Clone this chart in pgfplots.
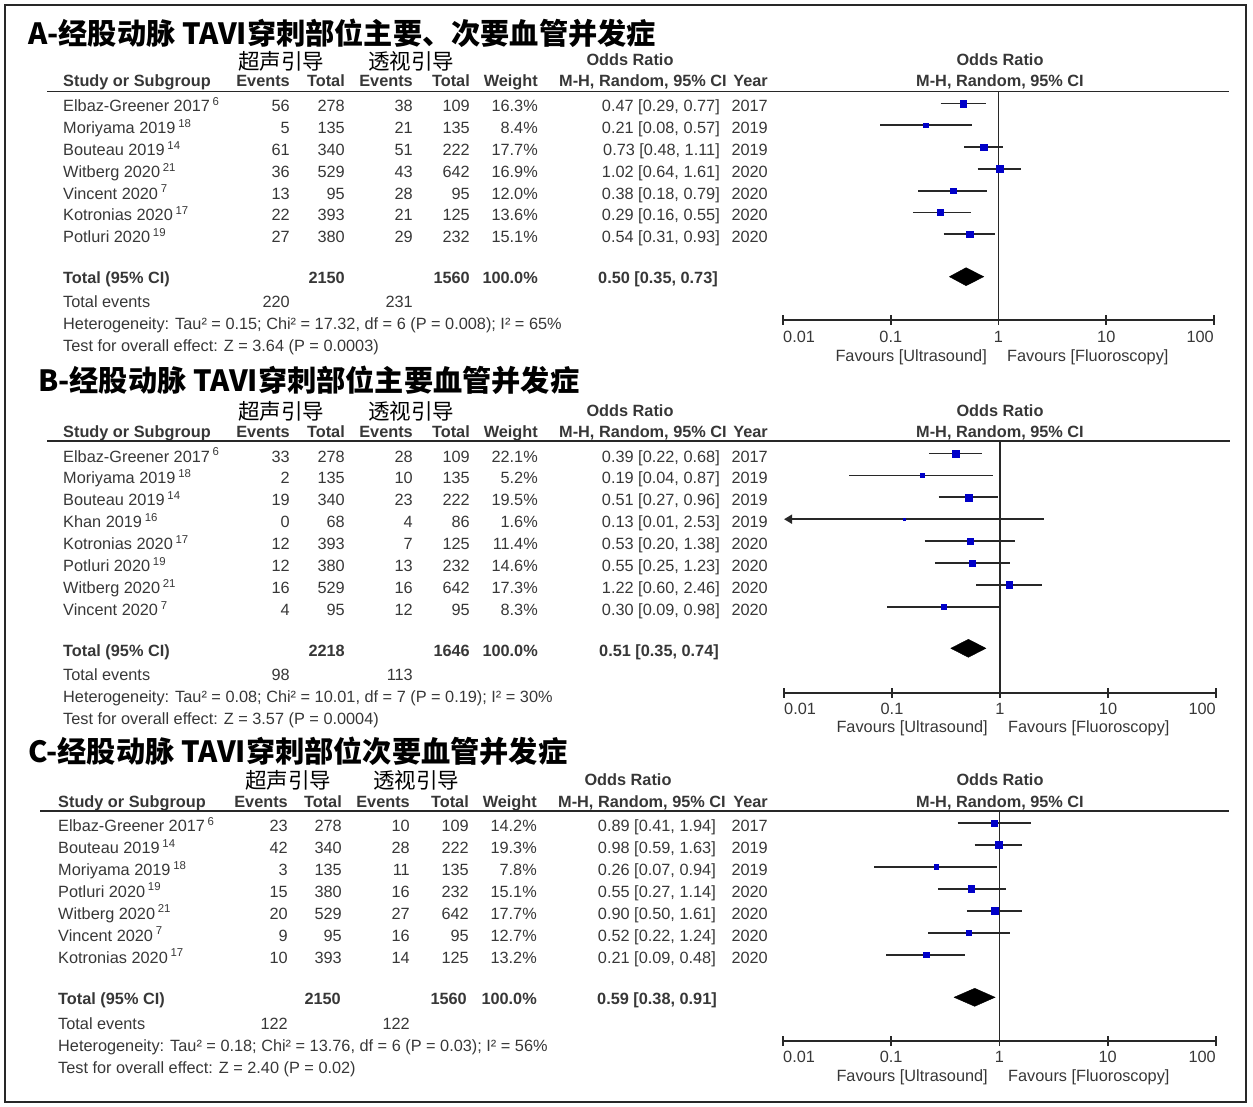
\documentclass[border=0pt]{standalone}
\usepackage{pgfplots}
\pgfplotsset{compat=1.18}
\usepackage{fontspec}
\setmainfont{Liberation Sans}
\newfontfamily\cjk{Noto Sans CJK SC}
\usetikzlibrary{arrows.meta}
\definecolor{txt}{RGB}{55,55,55}
\definecolor{sqblue}{RGB}{0,0,200}
\definecolor{lncol}{RGB}{40,40,40}
\newcommand\fsz{\fontsize{16.3pt}{19pt}\selectfont}
\newcommand\putL[3]{\node[anchor=base west,inner sep=0pt] at (#1pt,-#2pt) {#3};}
\newcommand\putR[3]{\node[anchor=base east,inner sep=0pt] at (#1pt,-#2pt) {#3};}
\newcommand\putC[3]{\node[anchor=base,inner sep=0pt] at (#1pt,-#2pt) {#3};}
\newcommand\sps[1]{\,\textsuperscript{#1}}
\newcommand\ttl{\cjk\bfseries\fontsize{29.2pt}{31pt}\selectfont}
\newcommand\sub{\cjk\fontsize{21.5pt}{24pt}\selectfont}
% study row: baseline, name, e1, t1, e2, t2, weight, OR, year
\newcommand\studyrow[9]{\putL{\kN}{#1}{#2}\putR{\kA}{#1}{#3}\putR{\kB}{#1}{#4}\putR{\kC}{#1}{#5}\putR{\kD}{#1}{#6}\putR{\kE}{#1}{#7}\putR{\kF}{#1}{#8}\putR{\kG}{#1}{#9}}
\newcommand\headrow[1]{%
 \putL{\kN}{#1}{\bfseries Study or Subgroup}\putR{\kA}{#1}{\bfseries Events}\putR{\kB}{#1}{\bfseries Total}%
 \putR{\kC}{#1}{\bfseries Events}\putR{\kD}{#1}{\bfseries Total}\putR{\kE}{#1}{\bfseries Weight}%
 \putL{\kH}{#1}{\bfseries M-H, Random, 95\% CI}\putR{\kG}{#1}{\bfseries Year}%
 \putC{1000}{#1}{\bfseries M-H, Random, 95\% CI}}
\begin{document}
\begin{tikzpicture}[font=\fsz, every node/.append style={text=txt}]
\path[use as bounding box] (0,0) rectangle (1253pt,-1107pt);
\draw[lncol, line width=2.5pt] (5pt,-5pt) rectangle (1246pt,-1102pt);

% ================= Panel A =================
\def\kN{63}\def\kA{290}\def\kB{345}\def\kC{413}\def\kD{470}\def\kE{538}\def\kF{720}\def\kG{768}\def\kH{559}
\node[anchor=base west,inner sep=0pt,font=\ttl,text=black] at (28pt,-45pt) {A-经股动脉 TAVI穿刺部位主要、次要血管并发症};
\node[anchor=base,inner sep=0pt,font=\sub,text=black] at (281pt,-69.5pt) {超声引导};
\node[anchor=base,inner sep=0pt,font=\sub,text=black] at (411pt,-69.5pt) {透视引导};
\putC{630}{66}{\bfseries Odds Ratio}\putC{1000}{66}{\bfseries Odds Ratio}
\headrow{87}
\draw[lncol, line width=1.8pt] (47pt,-91.5pt) -- (1229pt,-91.5pt);
\studyrow{112}{Elbaz-Greener 2017\sps{6}}{56}{278}{38}{109}{16.3\%}{0.47 [0.29, 0.77]}{2017}
\studyrow{133.8}{Moriyama 2019\sps{18}}{5}{135}{21}{135}{8.4\%}{0.21 [0.08, 0.57]}{2019}
\studyrow{155.6}{Bouteau 2019\sps{14}}{61}{340}{51}{222}{17.7\%}{0.73 [0.48, 1.11]}{2019}
\studyrow{177.4}{Witberg 2020\sps{21}}{36}{529}{43}{642}{16.9\%}{1.02 [0.64, 1.61]}{2020}
\studyrow{199.2}{Vincent 2020\sps{7}}{13}{95}{28}{95}{12.0\%}{0.38 [0.18, 0.79]}{2020}
\studyrow{221}{Kotronias 2020\sps{17}}{22}{393}{21}{125}{13.6\%}{0.29 [0.16, 0.55]}{2020}
\studyrow{242.8}{Potluri 2020\sps{19}}{27}{380}{29}{232}{15.1\%}{0.54 [0.31, 0.93]}{2020}
\putL{\kN}{284}{\bfseries Total (95\% CI)}\putR{\kB}{284}{\bfseries 2150}\putR{\kD}{284}{\bfseries 1560}\putR{\kE}{284}{\bfseries 100.0\%}\putR{718}{284}{\bfseries 0.50 [0.35, 0.73]}
\putL{\kN}{308}{Total events}\putR{\kA}{308}{220}\putR{\kC}{308}{231}
\putL{\kN}{330}{Heterogeneity: Tau² = 0.15; Chi² = 17.32, df = 6 (P = 0.008); I² = 65\%}
\putL{\kN}{352}{Test for overall effect: Z = 3.64 (P = 0.0003)}
\putL{783}{342}{0.01}\putC{890.8}{342}{0.1}\putC{998.5}{342}{1}\putC{1106.3}{342}{10}\putR{1214}{342}{100}
\putR{987}{361}{Favours [Ultrasound]}\putL{1007}{361}{Favours [Fluoroscopy]}
\begin{semilogxaxis}[anchor=south west, at={(783pt,-320pt)}, scale only axis, width=431pt, height=228.5pt,
  xmin=0.01, xmax=100, ymin=-320, ymax=-91.5,
  axis x line=bottom, axis y line=none, clip=false,
  axis line style={-, draw=lncol, line width=1.8pt},
  xtick={0.01,0.1,1,10,100}, xticklabels={}, ytick=\empty, minor xtick={}, minor tick length=0pt,
  tick style={draw=lncol, line width=1.8pt}, major tick length=10pt, tick align=center]
\addplot[draw=lncol, line width=1.3pt] coordinates {(1,-91.5) (1,-320)};
\addplot[draw=lncol, line width=1.7pt] coordinates {(0.29,-103.5) (0.77,-103.5)};
\addplot[draw=lncol, line width=1.7pt] coordinates {(0.08,-125.3) (0.57,-125.3)};
\addplot[draw=lncol, line width=1.7pt] coordinates {(0.48,-147.1) (1.11,-147.1)};
\addplot[draw=lncol, line width=1.7pt] coordinates {(0.64,-168.9) (1.61,-168.9)};
\addplot[draw=lncol, line width=1.7pt] coordinates {(0.18,-190.7) (0.79,-190.7)};
\addplot[draw=lncol, line width=1.7pt] coordinates {(0.16,-212.5) (0.55,-212.5)};
\addplot[draw=lncol, line width=1.7pt] coordinates {(0.31,-234.3) (0.93,-234.3)};
\addplot[only marks, mark=square*, mark size=3.23pt, color=sqblue] coordinates {(0.47,-103.5)};
\addplot[only marks, mark=square*, mark size=2.32pt, color=sqblue] coordinates {(0.21,-125.3)};
\addplot[only marks, mark=square*, mark size=3.37pt, color=sqblue] coordinates {(0.73,-147.1)};
\addplot[only marks, mark=square*, mark size=3.29pt, color=sqblue] coordinates {(1.02,-168.9)};
\addplot[only marks, mark=square*, mark size=2.77pt, color=sqblue] coordinates {(0.38,-190.7)};
\addplot[only marks, mark=square*, mark size=2.95pt, color=sqblue] coordinates {(0.29,-212.5)};
\addplot[only marks, mark=square*, mark size=3.11pt, color=sqblue] coordinates {(0.54,-234.3)};
\addplot[draw=black, fill=black] coordinates {(0.35,-276.7) (0.50,-267.7) (0.73,-276.7) (0.50,-285.7) (0.35,-276.7)};
\end{semilogxaxis}

% ================= Panel B =================
\node[anchor=base west,inner sep=0pt,font=\ttl,text=black] at (38pt,-391pt) {B-经股动脉 TAVI穿刺部位主要血管并发症};
\node[anchor=base,inner sep=0pt,font=\sub,text=black] at (281pt,-419.5pt) {超声引导};
\node[anchor=base,inner sep=0pt,font=\sub,text=black] at (411pt,-419.5pt) {透视引导};
\putC{630}{416}{\bfseries Odds Ratio}\putC{1000}{416}{\bfseries Odds Ratio}
\headrow{437.5}
\draw[lncol, line width=1.8pt] (47pt,-441.3pt) -- (1230pt,-441.3pt);
\studyrow{462}{Elbaz-Greener 2017\sps{6}}{33}{278}{28}{109}{22.1\%}{0.39 [0.22, 0.68]}{2017}
\studyrow{483.9}{Moriyama 2019\sps{18}}{2}{135}{10}{135}{5.2\%}{0.19 [0.04, 0.87]}{2019}
\studyrow{505.8}{Bouteau 2019\sps{14}}{19}{340}{23}{222}{19.5\%}{0.51 [0.27, 0.96]}{2019}
\studyrow{527.7}{Khan 2019\sps{16}}{0}{68}{4}{86}{1.6\%}{0.13 [0.01, 2.53]}{2019}
\studyrow{549.6}{Kotronias 2020\sps{17}}{12}{393}{7}{125}{11.4\%}{0.53 [0.20, 1.38]}{2020}
\studyrow{571.5}{Potluri 2020\sps{19}}{12}{380}{13}{232}{14.6\%}{0.55 [0.25, 1.23]}{2020}
\studyrow{593.4}{Witberg 2020\sps{21}}{16}{529}{16}{642}{17.3\%}{1.22 [0.60, 2.46]}{2020}
\studyrow{615.3}{Vincent 2020\sps{7}}{4}{95}{12}{95}{8.3\%}{0.30 [0.09, 0.98]}{2020}
\putL{\kN}{656}{\bfseries Total (95\% CI)}\putR{\kB}{656}{\bfseries 2218}\putR{\kD}{656}{\bfseries 1646}\putR{\kE}{656}{\bfseries 100.0\%}\putR{719}{656}{\bfseries 0.51 [0.35, 0.74]}
\putL{\kN}{680}{Total events}\putR{\kA}{680}{98}\putR{\kC}{680}{113}
\putL{\kN}{702}{Heterogeneity: Tau² = 0.08; Chi² = 10.01, df = 7 (P = 0.19); I² = 30\%}
\putL{\kN}{724}{Test for overall effect: Z = 3.57 (P = 0.0004)}
\putL{784}{714}{0.01}\putC{892}{714}{0.1}\putC{1000}{714}{1}\putC{1108}{714}{10}\putR{1216}{714}{100}
\putR{988}{732.5}{Favours [Ultrasound]}\putL{1008}{732.5}{Favours [Fluoroscopy]}
\begin{semilogxaxis}[anchor=south west, at={(784pt,-692.7pt)}, scale only axis, width=432pt, height=251.4pt,
  xmin=0.01, xmax=100, ymin=-692.7, ymax=-441.3,
  axis x line=bottom, axis y line=none, clip=false,
  axis line style={-, draw=lncol, line width=1.8pt},
  xtick={0.01,0.1,1,10,100}, xticklabels={}, ytick=\empty, minor xtick={}, minor tick length=0pt,
  tick style={draw=lncol, line width=1.8pt}, major tick length=10pt, tick align=center]
\addplot[draw=lncol, line width=1.3pt] coordinates {(1,-441.3) (1,-692.7)};
\addplot[draw=lncol, line width=1.7pt] coordinates {(0.22,-453.5) (0.68,-453.5)};
\addplot[draw=lncol, line width=1.7pt] coordinates {(0.04,-475.4) (0.87,-475.4)};
\addplot[draw=lncol, line width=1.7pt] coordinates {(0.27,-497.3) (0.96,-497.3)};
\addplot[draw=lncol, line width=1.7pt, arrows={Triangle[length=8pt,width=9pt]-}] coordinates {(0.01,-519.2) (2.53,-519.2)};
\addplot[draw=lncol, line width=1.7pt] coordinates {(0.20,-541.1) (1.38,-541.1)};
\addplot[draw=lncol, line width=1.7pt] coordinates {(0.25,-563) (1.23,-563)};
\addplot[draw=lncol, line width=1.7pt] coordinates {(0.60,-584.9) (2.46,-584.9)};
\addplot[draw=lncol, line width=1.7pt] coordinates {(0.09,-606.8) (0.98,-606.8)};
\addplot[only marks, mark=square*, mark size=3.76pt, color=sqblue] coordinates {(0.39,-453.5)};
\addplot[only marks, mark=square*, mark size=1.82pt, color=sqblue] coordinates {(0.19,-475.4)};
\addplot[only marks, mark=square*, mark size=3.53pt, color=sqblue] coordinates {(0.51,-497.3)};
\addplot[only marks, mark=square*, mark size=1.2pt, color=sqblue] coordinates {(0.13,-519.2)};
\addplot[only marks, mark=square*, mark size=2.70pt, color=sqblue] coordinates {(0.53,-541.1)};
\addplot[only marks, mark=square*, mark size=3.06pt, color=sqblue] coordinates {(0.55,-563)};
\addplot[only marks, mark=square*, mark size=3.33pt, color=sqblue] coordinates {(1.22,-584.9)};
\addplot[only marks, mark=square*, mark size=2.30pt, color=sqblue] coordinates {(0.30,-606.8)};
\addplot[draw=black, fill=black] coordinates {(0.35,-648.3) (0.51,-639.3) (0.74,-648.3) (0.51,-657.3) (0.35,-648.3)};
\end{semilogxaxis}

% ================= Panel C =================
\def\kN{58}\def\kA{288}\def\kB{342}\def\kC{410}\def\kD{469}\def\kE{537}\def\kF{716}\def\kG{768}\def\kH{558}
\node[anchor=base west,inner sep=0pt,font=\ttl,text=black] at (28pt,-762pt) {C-经股动脉 TAVI穿刺部位次要血管并发症};
\node[anchor=base,inner sep=0pt,font=\sub,text=black] at (288pt,-788.5pt) {超声引导};
\node[anchor=base,inner sep=0pt,font=\sub,text=black] at (416pt,-788.5pt) {透视引导};
\putC{628}{785}{\bfseries Odds Ratio}\putC{1000}{785}{\bfseries Odds Ratio}
\headrow{807}
\draw[lncol, line width=1.8pt] (40pt,-810.7pt) -- (1229pt,-810.7pt);
\studyrow{831.3}{Elbaz-Greener 2017\sps{6}}{23}{278}{10}{109}{14.2\%}{0.89 [0.41, 1.94]}{2017}
\studyrow{853.3}{Bouteau 2019\sps{14}}{42}{340}{28}{222}{19.3\%}{0.98 [0.59, 1.63]}{2019}
\studyrow{875.3}{Moriyama 2019\sps{18}}{3}{135}{11}{135}{7.8\%}{0.26 [0.07, 0.94]}{2019}
\studyrow{897.2}{Potluri 2020\sps{19}}{15}{380}{16}{232}{15.1\%}{0.55 [0.27, 1.14]}{2020}
\studyrow{919.2}{Witberg 2020\sps{21}}{20}{529}{27}{642}{17.7\%}{0.90 [0.50, 1.61]}{2020}
\studyrow{941.2}{Vincent 2020\sps{7}}{9}{95}{16}{95}{12.7\%}{0.52 [0.22, 1.24]}{2020}
\studyrow{963.2}{Kotronias 2020\sps{17}}{10}{393}{14}{125}{13.2\%}{0.21 [0.09, 0.48]}{2020}
\putL{\kN}{1004}{\bfseries Total (95\% CI)}\putR{341}{1004}{\bfseries 2150}\putR{467}{1004}{\bfseries 1560}\putR{\kE}{1004}{\bfseries 100.0\%}\putR{717}{1004}{\bfseries 0.59 [0.38, 0.91]}
\putL{\kN}{1029}{Total events}\putR{\kA}{1029}{122}\putR{\kC}{1029}{122}
\putL{\kN}{1051}{Heterogeneity: Tau² = 0.18; Chi² = 13.76, df = 6 (P = 0.03); I² = 56\%}
\putL{\kN}{1073}{Test for overall effect: Z = 2.40 (P = 0.02)}
\putL{783}{1062.5}{0.01}\putC{891.2}{1062.5}{0.1}\putC{999.5}{1062.5}{1}\putC{1107.7}{1062.5}{10}\putR{1216}{1062.5}{100}
\putR{988}{1081.5}{Favours [Ultrasound]}\putL{1008}{1081.5}{Favours [Fluoroscopy]}
\begin{semilogxaxis}[anchor=south west, at={(783pt,-1041pt)}, scale only axis, width=433pt, height=230.3pt,
  xmin=0.01, xmax=100, ymin=-1041, ymax=-810.7,
  axis x line=bottom, axis y line=none, clip=false,
  axis line style={-, draw=lncol, line width=1.8pt},
  xtick={0.01,0.1,1,10,100}, xticklabels={}, ytick=\empty, minor xtick={}, minor tick length=0pt,
  tick style={draw=lncol, line width=1.8pt}, major tick length=10pt, tick align=center]
\addplot[draw=lncol, line width=1.3pt] coordinates {(1,-810.7) (1,-1041)};
\addplot[draw=lncol, line width=1.7pt] coordinates {(0.41,-822.8) (1.94,-822.8)};
\addplot[draw=lncol, line width=1.7pt] coordinates {(0.59,-844.8) (1.63,-844.8)};
\addplot[draw=lncol, line width=1.7pt] coordinates {(0.07,-866.8) (0.94,-866.8)};
\addplot[draw=lncol, line width=1.7pt] coordinates {(0.27,-888.7) (1.14,-888.7)};
\addplot[draw=lncol, line width=1.7pt] coordinates {(0.50,-910.7) (1.61,-910.7)};
\addplot[draw=lncol, line width=1.7pt] coordinates {(0.22,-932.7) (1.24,-932.7)};
\addplot[draw=lncol, line width=1.7pt] coordinates {(0.09,-954.7) (0.48,-954.7)};
\addplot[only marks, mark=square*, mark size=3.01pt, color=sqblue] coordinates {(0.89,-822.8)};
\addplot[only marks, mark=square*, mark size=3.51pt, color=sqblue] coordinates {(0.98,-844.8)};
\addplot[only marks, mark=square*, mark size=2.23pt, color=sqblue] coordinates {(0.26,-866.8)};
\addplot[only marks, mark=square*, mark size=3.11pt, color=sqblue] coordinates {(0.55,-888.7)};
\addplot[only marks, mark=square*, mark size=3.37pt, color=sqblue] coordinates {(0.90,-910.7)};
\addplot[only marks, mark=square*, mark size=2.85pt, color=sqblue] coordinates {(0.52,-932.7)};
\addplot[only marks, mark=square*, mark size=2.91pt, color=sqblue] coordinates {(0.21,-954.7)};
\addplot[draw=black, fill=black] coordinates {(0.38,-997.3) (0.59,-988.3) (0.91,-997.3) (0.59,-1006.3) (0.38,-997.3)};
\end{semilogxaxis}
\end{tikzpicture}
\end{document}
